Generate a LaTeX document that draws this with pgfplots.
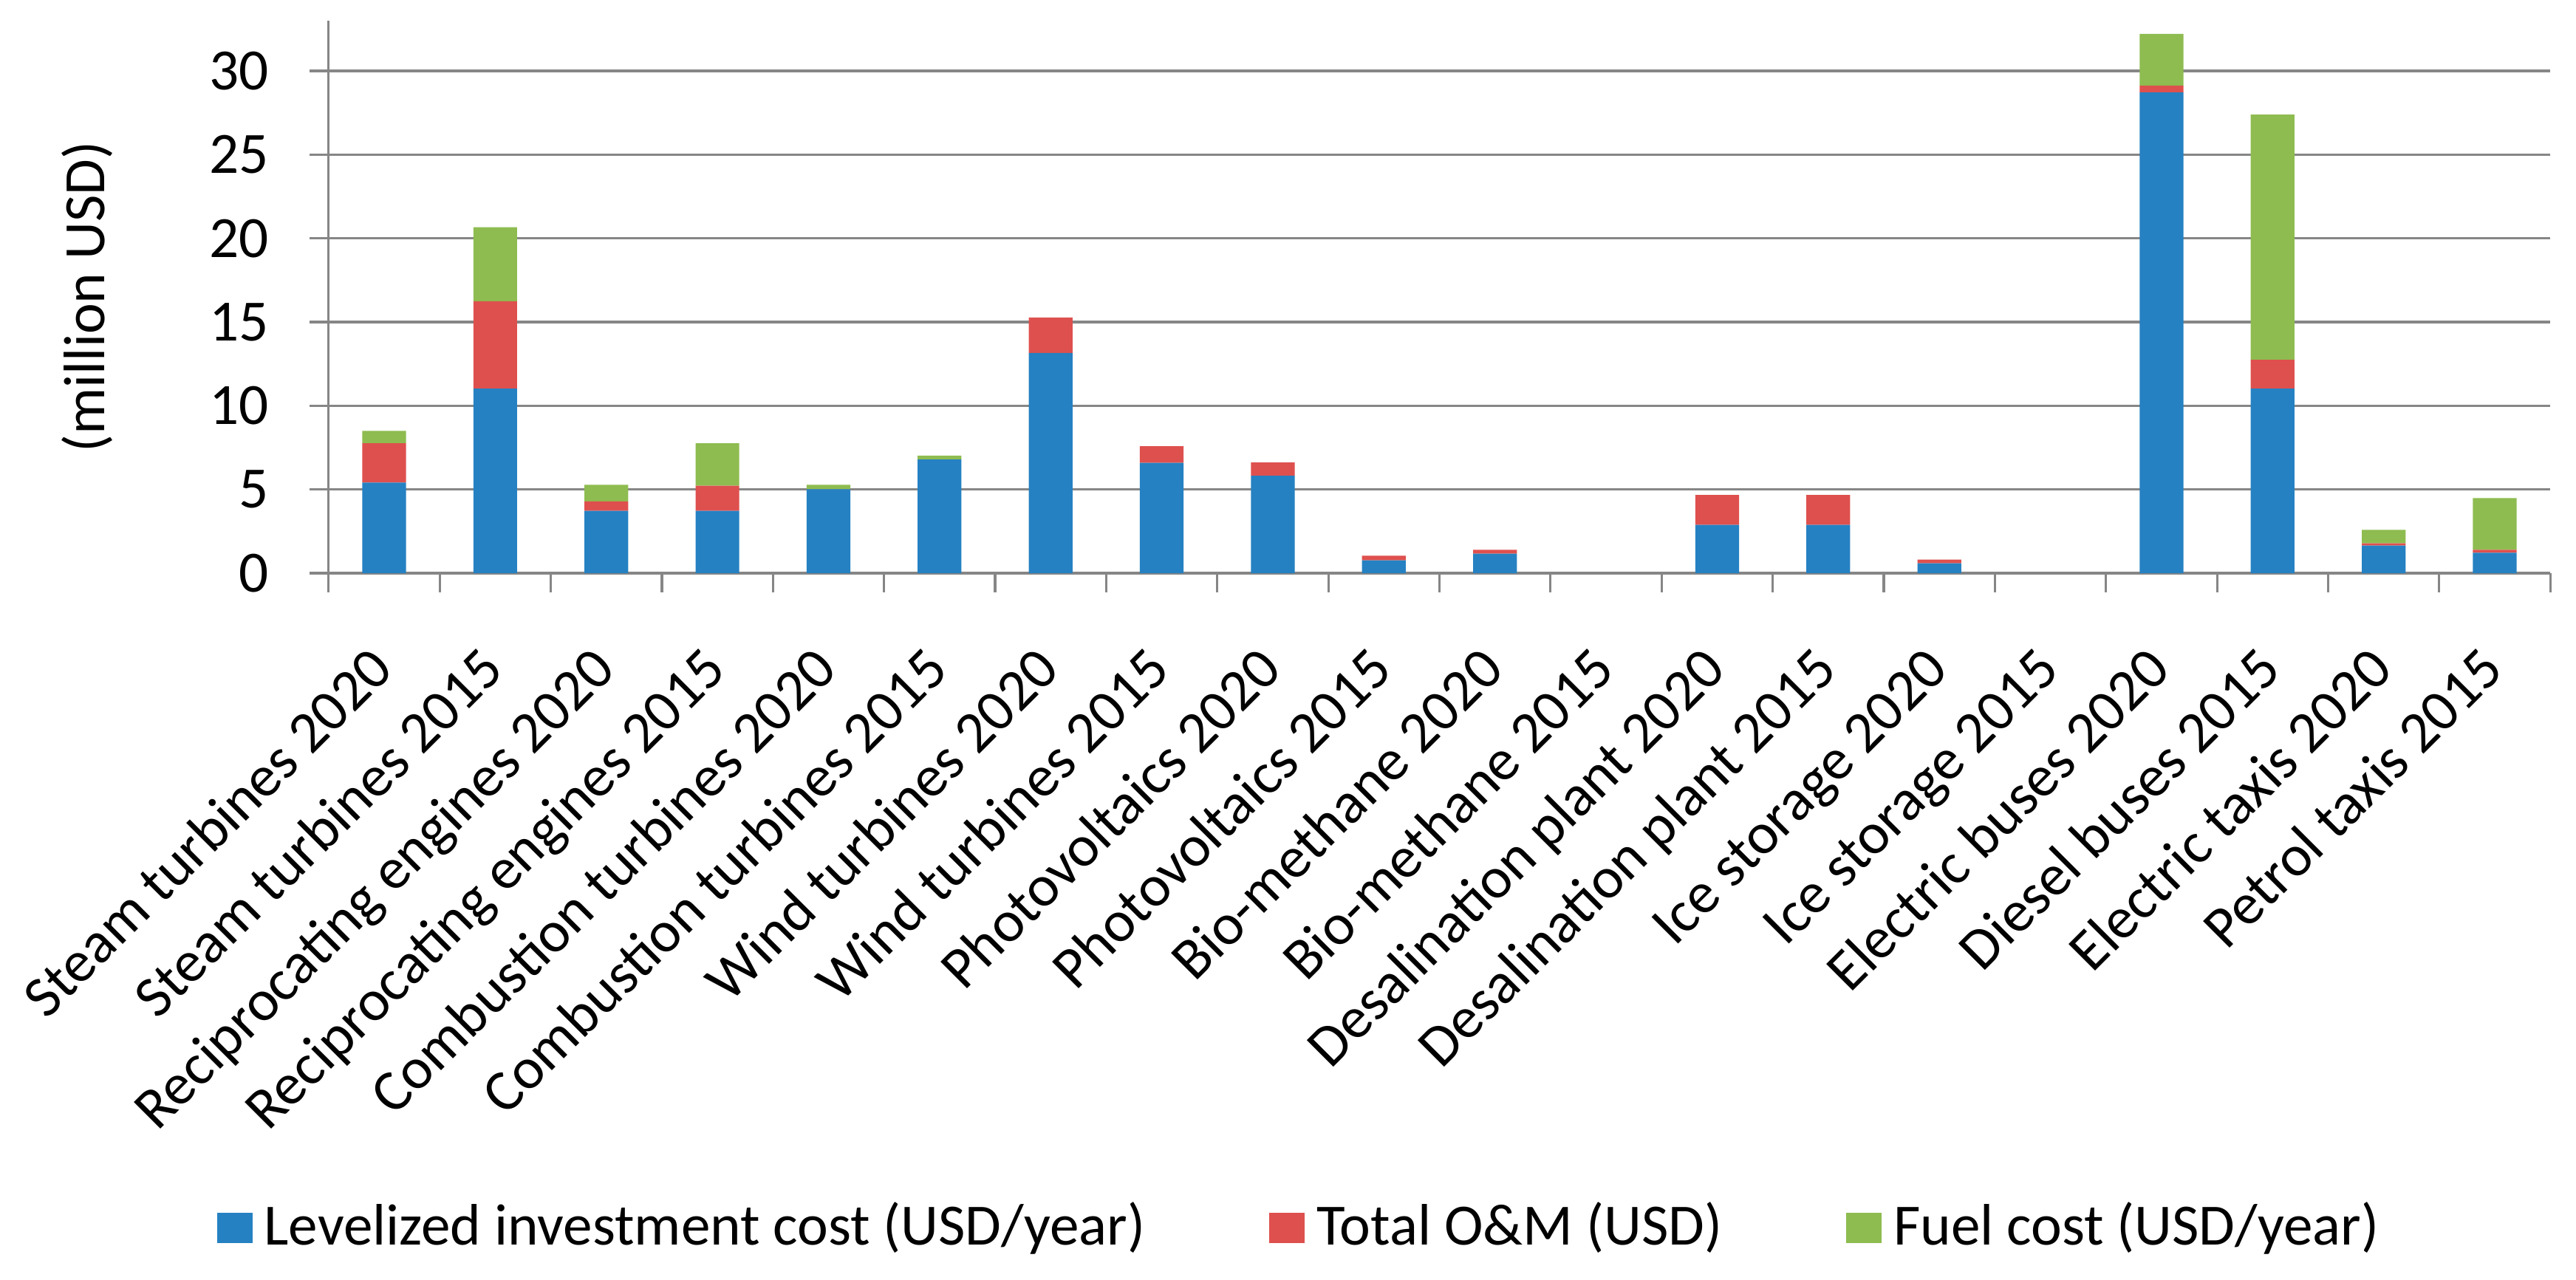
\documentclass[border=0pt]{standalone}
\usepackage{fontspec}
\setmainfont{Carlito}
\usepackage{pgfplots}
\usepackage{pgfplotstable}
\pgfplotsset{compat=1.18}
\definecolor{cblue}{HTML}{2581C2}
\definecolor{cred}{HTML}{DE504E}
\definecolor{cgreen}{HTML}{8EBC50}
\definecolor{gridgray}{HTML}{868686}
\pgfplotstableread{
x inv om fuel
0 5.41 2.35 0.74
1 11.03 5.21 4.42
2 3.72 0.57 0.99
3 3.72 1.51 2.53
4 5.01 0.00 0.27
5 6.79 0.00 0.23
6 13.15 2.12 0
7 6.59 0.99 0
8 5.82 0.79 0
9 0.77 0.27 0
10 1.17 0.23 0
11 0 0 0
12 2.89 1.78 0
13 2.89 1.78 0
14 0.59 0.22 0
15 0 0 0
16 28.72 0.40 3.09
17 11.03 1.72 14.64
18 1.65 0.13 0.81
19 1.22 0.18 3.09
}\datatable
\newcommand{\cf}{\fontsize{9.9}{12}\selectfont}
\begin{document}
\begin{tikzpicture}[font=\cf]
\useasboundingbox (-55.6pt,-119.5pt) rectangle (380.25pt,97pt);
\begin{axis}[
  at={(0,0)}, anchor=south west,
  scale only axis, width=375.9pt, height=93.5pt,
  ybar stacked, bar width=7.4pt,
  xmin=-0.5, xmax=19.5, ymin=0, ymax=33,
  xtick={0,...,19},
  xticklabels={Steam turbines 2020,Steam turbines 2015,Reciprocating engines 2020,Reciprocating engines 2015,Combustion turbines 2020,Combustion turbines 2015,Wind turbines 2020,Wind turbines 2015,Photovoltaics 2020,Photovoltaics 2015,Bio-methane 2020,Bio-methane 2015,Desalination plant 2020,Desalination plant 2015,Ice storage 2020,Ice storage 2015,Electric buses 2020,Diesel buses 2015,Electric taxis 2020,Petrol taxis 2015},
  minor xtick={-0.5,0.5,...,19.5},
  ytick={0,5,...,30},
  ymajorgrids, major grid style={gridgray, line width=0.4pt},
  axis x line*=bottom, axis y line*=left,
  axis line style={gridgray, line width=0.4pt, -},
  tick align=outside, major tick length=3.2pt, minor tick length=3.2pt,
  tick style={gridgray, line width=0.4pt},
  major x tick style={draw=none},
  /pgf/number format/assume math mode=true,
  tick label style={font=\cf, black},
  yticklabel style={anchor=east, inner sep=0pt, xshift=-6.7pt},
  xticklabel style={xshift=2pt, yshift=-13.4pt, rotate=45, anchor=base east, inner sep=0pt},
  ylabel={(million USD)},
  every axis y label/.style={at={(axis description cs:-0.1088,0.5)}, rotate=90, anchor=center, font=\cf},
  legend columns=3,
  legend style={at={(axis description cs:0.439,-1.1845)}, anchor=center, draw=none, font=\cf, inner sep=0pt,
    /tikz/every even column/.append style={column sep=19pt}},
]
\addplot[fill=cblue, draw=none, legend image code/.code={\fill[cblue] (0pt,-2.55pt) rectangle (6pt,2.55pt);}] table[x=x, y=inv] {\datatable};
\addplot[fill=cred, draw=none, legend image code/.code={\fill[cred] (0pt,-2.55pt) rectangle (6pt,2.55pt);}] table[x=x, y=om] {\datatable};
\addplot[fill=cgreen, draw=none, legend image code/.code={\fill[cgreen] (0pt,-2.55pt) rectangle (6pt,2.55pt);}] table[x=x, y=fuel] {\datatable};
\legend{Levelized investment cost (USD/year), Total O\&M (USD), Fuel cost (USD/year)}
\end{axis}
\end{tikzpicture}
\end{document}
